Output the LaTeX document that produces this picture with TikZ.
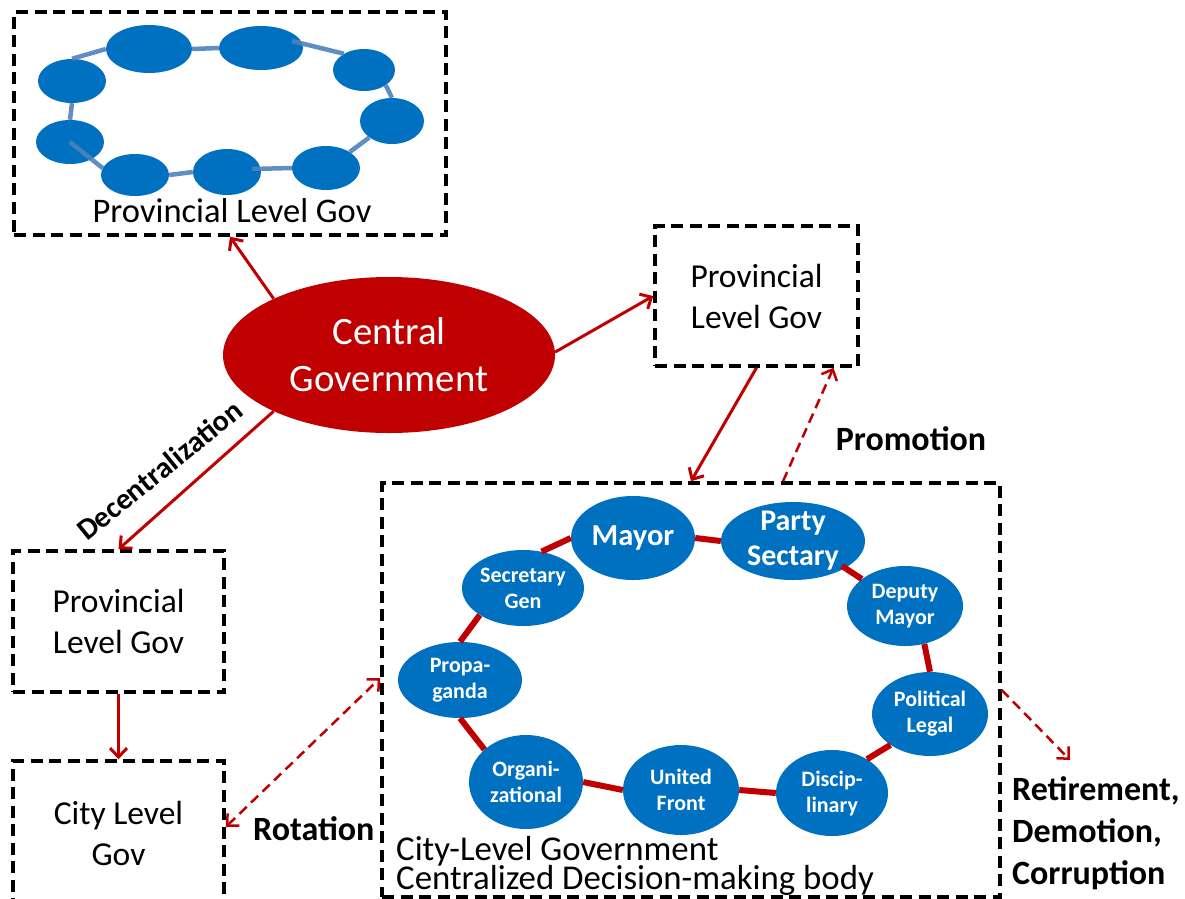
\documentclass[tikz,border=0pt]{standalone}
\usepackage{fontspec}
\setmainfont{Carlito}
\usetikzlibrary{shapes.geometric,arrows.meta}
\definecolor{govred}{RGB}{192,0,0}
\definecolor{ringblue}{RGB}{0,112,192}
\definecolor{linkblue}{RGB}{79,129,189}
\newcommand\tightskip{\lineskiplimit=-50pt\relax}
\begin{document}
\begin{tikzpicture}[x=1pt,y=-1pt,>={Straight Barb[length=9pt,width=17pt]},
	govbox/.style={draw,line width=3.5pt,dash pattern=on 12pt off 6.5pt,align=center,inner sep=0pt,font=\fontsize{33.5}{41}\selectfont},
	ring/.style={ellipse,fill=ringblue,inner sep=0pt},
	ringtxt/.style={text=white,align=center,inner sep=0pt,font=\bfseries\fontsize{22}{26}\selectfont},
	link/.style={linkblue,line width=4.5pt,opacity=0.9},
	tie/.style={govred,line width=6pt},
	arr/.style={->,govred,line width=3pt},
	darr/.style={->,govred,line width=2.5pt,dash pattern=on 10pt off 6pt},
	tag/.style={inner sep=0pt,font=\bfseries\fontsize{34}{42}\selectfont}]
	\useasboundingbox (0,0) rectangle (1185,898);
	\clip (0,0) rectangle (1185,898);
	% boxes
	\node[govbox,minimum width=432pt,minimum height=223pt] (provtop) at (230,123.5) {};
	\node[anchor=base,font=\fontsize{34.5}{41}\selectfont] (provtoplbl) at (232,222) {Provincial Level Gov};
	\node[govbox,minimum width=203pt,minimum height=140pt] (provright) at (756.5,296) {Provincial\\Level Gov};
	\node[govbox,minimum width=211pt,minimum height=141pt] (provleft) at (118.5,621.5) {Provincial\\Level Gov};
	\node[govbox,minimum width=211pt,minimum height=144pt] (citylevel) at (118.5,833) {City Level\\Gov};
	\node[govbox,minimum width=618pt,minimum height=414pt] (citybody) at (691,690) {};
	\node[anchor=north west,align=left,inner sep=0pt,font=\fontsize{34.8}{29}\selectfont\tightskip] (bodylbl) at (396,836.5) {City-Level Government\\Centralized Decision-making body};
	% central government
	\node[ellipse,fill=govred,text=white,inner sep=0pt,minimum width=332pt,minimum height=156pt,align=center,font=\fontsize{38.8}{47}\selectfont] (cg) at (389,355) {Central\\Government};
	% provincial ring
	\node[ring,minimum width=86pt,minimum height=48pt] (t1) at (149,49) {};
	\node[ring,minimum width=84pt,minimum height=44pt] (t2) at (261,48) {};
	\node[ring,minimum width=62pt,minimum height=42pt] (t3) at (364,70) {};
	\node[ring,minimum width=64pt,minimum height=46pt] (t4) at (392,121) {};
	\node[ring,minimum width=68pt,minimum height=44pt] (t5) at (326,168) {};
	\node[ring,minimum width=68pt,minimum height=46pt] (t6) at (227,172) {};
	\node[ring,minimum width=68pt,minimum height=42pt] (t7) at (135,175) {};
	\node[ring,minimum width=68pt,minimum height=44pt] (t8) at (70,142) {};
	\node[ring,minimum width=68pt,minimum height=44pt] (t9) at (72,81) {};
	\draw[link] (t9.north) -- (t1.west);
	\draw[link] (t1.east) -- (t2.west);
	\draw[link] ([shift={(31,-7)}]t2.center) -- (t3.141);
	\draw[link] (t3.325) -- (t4.north);
	\draw[link] (t4.216) -- (t5.34);
	\draw[link] (t5.west) -- ([shift={(25,-3)}]t6.center);
	\draw[link] (t6.west) -- (t7.east);
	\draw[link] (t7.168) -- (t8.center);
	\draw[link] (t8.north) -- (t9.south);
	% city ring
	\node[ring,minimum width=124pt,minimum height=84pt,label={[ringtxt,font=\bfseries\fontsize{30.5}{35}\selectfont]center:Mayor}] (mayor) at (633,538) {};
	\node[ring,minimum width=144pt,minimum height=78pt,label={[ringtxt,font=\bfseries\fontsize{30}{35}\selectfont]center:{Party\\Sectary}}] (party) at (793,541) {};
	\node[ring,minimum width=122pt,minimum height=76pt,label={[ringtxt]center:{Secretary\\Gen}}] (secgen) at (523,588) {};
	\node[ring,minimum width=116pt,minimum height=80pt,label={[ringtxt]center:{Deputy\\Mayor}}] (deputy) at (905,606) {};
	\node[ring,minimum width=124pt,minimum height=76pt,label={[ringtxt]center:{Propa-\\ganda}}] (propa) at (460,680) {};
	\node[ring,minimum width=116pt,minimum height=84pt,label={[ringtxt]center:{Political\\Legal}}] (polit) at (930,714) {};
	\node[ring,minimum width=114pt,minimum height=94pt,label={[ringtxt]center:{Organi-\\zational}}] (organ) at (526,782) {};
	\node[ring,minimum width=116pt,minimum height=90pt,label={[ringtxt]center:{United\\Front}}] (united) at (681,790) {};
	\node[ring,minimum width=112pt,minimum height=86pt,label={[ringtxt]center:{Discip-\\linary}}] (discip) at (832,793) {};
	\draw[tie] (mayor.west) -- (secgen.63);
	\draw[tie] (secgen.212) -- (propa.north);
	\draw[tie] (propa.south) -- (organ.142);
	\draw[tie] (organ.east) -- (united.west);
	\draw[tie] (united.east) -- (discip.west);
	\draw[tie] (discip.44) -- (polit.218);
	\draw[tie] (polit.north) -- (deputy.297);
	\draw[tie] (deputy.148) -- ([shift={(49,25)}]party.center);
	\draw[tie] (party.west) -- (mayor.east);
	% arrows
	\draw[arr] (cg.154) -- (provtop.south);
	\draw[arr] (cg.1) -- (provright.west);
	\draw[arr] (cg.206) -- (provleft.north);
	\draw[arr] (provleft.south) -- (citylevel.north);
	\draw[arr] (provright.south) -- (citybody.north);
	\draw[darr] ([xshift=92pt]citybody.north) -- ([xshift=77pt]provright.south);
	\draw[darr,<->] ([yshift=6pt]citylevel.east) -- ([yshift=12pt]citybody.west);
	\coordinate (retire) at (1070,760);
	\draw[darr] (citybody.east) -- (retire);
	% labels
	\node[tag,font=\bfseries\fontsize{30}{34}\selectfont,rotate=39,anchor=base] (declbl) at (166,478) {Decentralization};
	\node[tag,anchor=base] (promo) at (911,450) {Promotion};
	\node[tag,anchor=base west] (rot) at (253,840) {Rotation};
	\node[tag,anchor=north west,align=left] (exit) at (1012,776) {Retirement,\\Demotion,\\Corruption};
\end{tikzpicture}
\end{document}
